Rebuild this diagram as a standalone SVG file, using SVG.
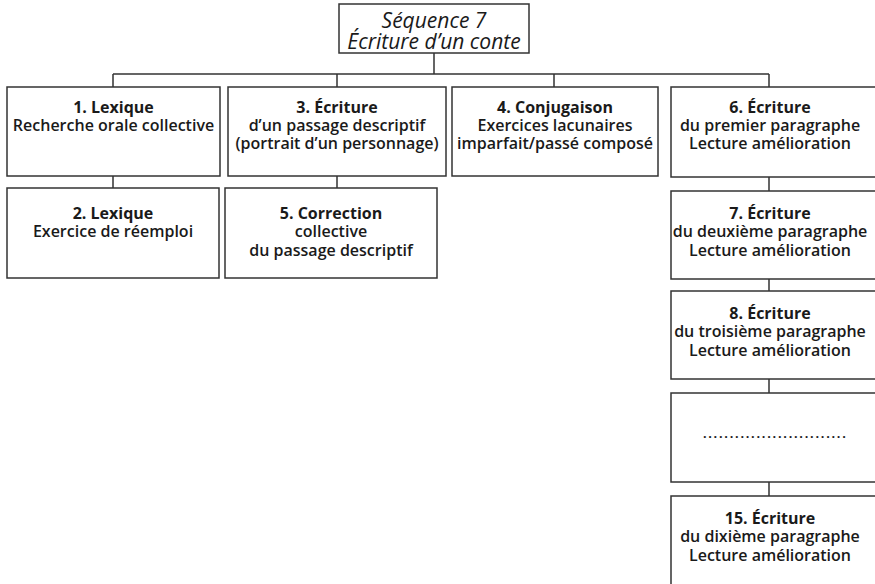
<svg xmlns="http://www.w3.org/2000/svg" width="875" height="584" viewBox="0 0 875 584">
<style>
  .box { fill: #ffffff; stroke: #333333; stroke-width: 1.5; }
  .conn { fill: none; stroke: #333333; stroke-width: 1.5; }
  text { font-family: "Open Sans", "Noto Sans", "Liberation Sans", sans-serif; fill: #1a1a1a; text-anchor: middle; font-size: 16px; }
  .h { font-weight: 700; }
  .b { font-weight: 600; }
  .t { font-style: italic; font-size: 21px; font-weight: 500; }
  .dots { font-weight: 600; font-size: 15px; letter-spacing: 1.25px; }
</style>
<rect width="875" height="584" fill="#ffffff"/>
<g id="connectors">
  <path class="conn" d="M434 53 V74 M113 74 H769 M113 74 V87 M337 74 V87 M554 74 V87 M769 74 V87"/>
  <path class="conn" d="M113 176 V188 M337 176 V188 M769 177 V191 M769 279 V291 M769 379 V393 M769 482 V496"/>
</g>
<g id="title">
  <rect class="box" x="339" y="4" width="190" height="49"/>
  <text class="t" x="434" y="28">Séquence 7</text>
  <text class="t" x="434" y="49">Écriture d’un conte</text>
</g>
<g id="n1">
  <rect class="box" x="7" y="87" width="213" height="89"/>
  <text class="h" x="113.5" y="112.5">1. Lexique</text>
  <text class="b" x="113.5" y="130.5">Recherche orale collective</text>
</g>
<g id="n2">
  <rect class="box" x="7" y="188" width="212" height="90"/>
  <text class="h" x="113" y="218.5">2. Lexique</text>
  <text class="b" x="113" y="236.5">Exercice de réemploi</text>
</g>
<g id="n3">
  <rect class="box" x="228" y="87" width="218" height="89"/>
  <text class="h" x="337" y="112.5">3. Écriture</text>
  <text class="b" x="337" y="130.5">d’un passage descriptif</text>
  <text class="b" x="337" y="148.5">(portrait d’un personnage)</text>
</g>
<g id="n5">
  <rect class="box" x="225" y="188" width="212" height="90"/>
  <text class="h" x="331" y="218.5">5. Correction</text>
  <text class="b" x="331" y="236.5">collective</text>
  <text class="b" x="331" y="255.5">du passage descriptif</text>
</g>
<g id="n4">
  <rect class="box" x="452" y="87" width="206" height="89"/>
  <text class="h" x="555" y="112.5">4. Conjugaison</text>
  <text class="b" x="555" y="130.5">Exercices lacunaires</text>
  <text class="b" x="555" y="148.5">imparfait/passé composé</text>
</g>
<g id="n6">
  <rect class="box" x="671" y="87" width="210" height="90"/>
  <text class="h" x="770" y="112.5">6. Écriture</text>
  <text class="b" x="770" y="130.5">du premier paragraphe</text>
  <text class="b" x="770" y="148.5">Lecture amélioration</text>
</g>
<g id="n7">
  <rect class="box" x="671" y="191" width="210" height="88"/>
  <text class="h" x="770" y="218.5">7. Écriture</text>
  <text class="b" x="770" y="236.5">du deuxième paragraphe</text>
  <text class="b" x="770" y="255.5">Lecture amélioration</text>
</g>
<g id="n8">
  <rect class="box" x="671" y="291" width="210" height="88"/>
  <text class="h" x="770" y="318.5">8. Écriture</text>
  <text class="b" x="770" y="336.5">du troisième paragraphe</text>
  <text class="b" x="770" y="355.5">Lecture amélioration</text>
</g>
<g id="n9">
  <rect class="box" x="671" y="393" width="210" height="89"/>
  <text class="dots" x="775" y="438">...........................</text>
</g>
<g id="n15">
  <rect class="box" x="671" y="496" width="210" height="100"/>
  <text class="h" x="770" y="523.5">15. Écriture</text>
  <text class="b" x="770" y="541.5">du dixième paragraphe</text>
  <text class="b" x="770" y="560.5">Lecture amélioration</text>
</g>
</svg>
